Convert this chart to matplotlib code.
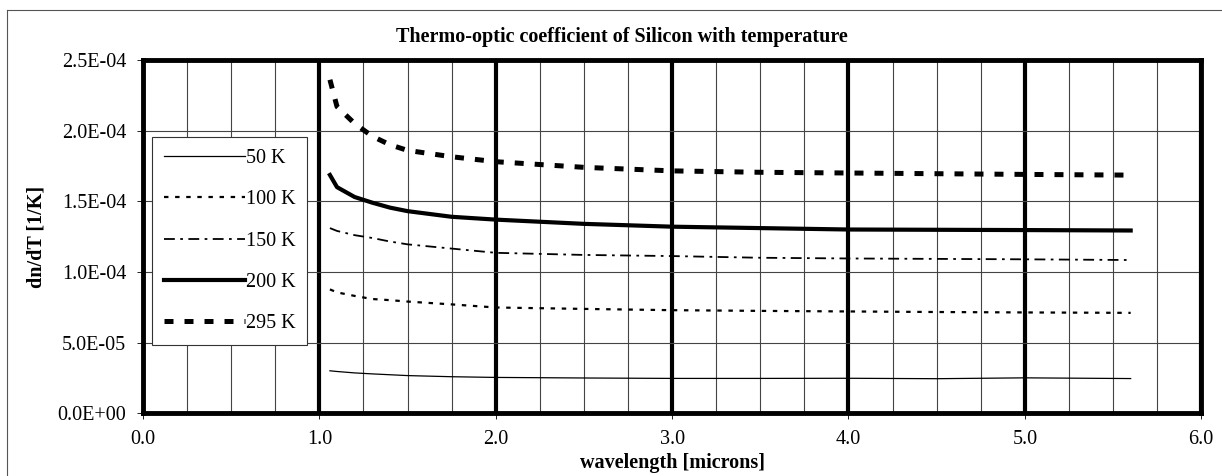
import numpy as np
import matplotlib
matplotlib.use("Agg")
import matplotlib.pyplot as plt
from matplotlib.ticker import FuncFormatter, MultipleLocator
from matplotlib.lines import Line2D

plt.rcParams["font.family"] = ["Liberation Serif", "DejaVu Serif"]

# data
wavelength = [1.06, 1.1, 1.2, 1.3, 1.4, 1.5, 1.75, 2.0, 2.5, 3.0, 3.5, 4.0, 4.5, 5.0, 5.6]

dndt_50K = [0.300, 0.295, 0.285, 0.278, 0.272, 0.266, 0.258, 0.253, 0.249, 0.246,
            0.246, 0.247, 0.244, 0.250, 0.245]
dndt_100K = [0.876, 0.855, 0.830, 0.808, 0.800, 0.790, 0.770, 0.748, 0.738, 0.729,
             0.724, 0.720, 0.716, 0.713, 0.710]
dndt_150K = [1.310, 1.290, 1.260, 1.240, 1.215, 1.195, 1.165, 1.135, 1.120, 1.112,
             1.100, 1.095, 1.092, 1.089, 1.084]
dndt_200K = [1.686, 1.600, 1.530, 1.490, 1.455, 1.430, 1.390, 1.370, 1.340, 1.320,
             1.310, 1.300, 1.298, 1.296, 1.293]
dndt_295K = [2.360, 2.170, 2.050, 1.960, 1.900, 1.860, 1.815, 1.780, 1.740, 1.715,
             1.705, 1.700, 1.695, 1.690, 1.685]

labels = ["50 K", "100 K", "150 K", "200 K", "295 K"]
SCALE = 1e-4
FS = 14.5

fig = plt.figure(figsize=(12.22, 4.76), dpi=100)
ax = fig.add_axes([0.117, 0.132, 0.866, 0.742])

x = np.array(wavelength)
ax.plot(x, np.array(dndt_50K) * SCALE, color="black", lw=0.9, label=labels[0])
ax.plot(x, np.array(dndt_100K) * SCALE, color="black", lw=1.6,
        dashes=(2, 3), label=labels[1])
ax.plot(x, np.array(dndt_150K) * SCALE, color="black", lw=1.3,
        dashes=(6, 3, 1.5, 3), label=labels[2])
ax.plot(x, np.array(dndt_200K) * SCALE, color="black", lw=3.0, label=labels[3])
ax.plot(x, np.array(dndt_295K) * SCALE, color="black", lw=3.6,
        dashes=(1.8, 2.2), label=labels[4])

ax.set_xlim(0, 6)
ax.set_ylim(0, 2.5e-4)
ax.xaxis.set_major_locator(MultipleLocator(1.0))
ax.xaxis.set_minor_locator(MultipleLocator(0.25))
ax.yaxis.set_major_locator(MultipleLocator(0.5e-4))
ax.xaxis.set_major_formatter(FuncFormatter(lambda v, p: f"{v:.1f}"))
ax.yaxis.set_major_formatter(FuncFormatter(lambda v, p: f"{v:.1E}"))

# grid: thin minor verticals, thick majors, thin horizontals
ax.grid(which="minor", axis="x", color="#444444", lw=0.8)
ax.grid(which="major", axis="x", color="black", lw=3.0)
ax.grid(which="major", axis="y", color="#444444", lw=0.8)
ax.set_axisbelow(True)

for s in ax.spines.values():
    s.set_linewidth(3.5)
ax.tick_params(which="major", direction="out", length=4, width=0.6,
               labelsize=FS, pad=8)
ax.tick_params(which="minor", length=0)
ax.tick_params(axis="x", pad=8)

ax.set_xlabel("wavelength [microns]", fontsize=FS, fontweight="bold", labelpad=3)
ax.set_ylabel("dn/dT [1/K]", fontsize=FS, fontweight="bold", labelpad=8)
fig.text(0.509, 0.922, "Thermo-optic coefficient of Silicon with temperature",
         ha="center", va="center", fontsize=FS, fontweight="bold")

leg = ax.legend(loc="upper left", bbox_to_anchor=(0.0085, 0.782),
                fontsize=FS, frameon=True, fancybox=False, framealpha=1,
                edgecolor="#333333", handlelength=4.0, handletextpad=0.05,
                labelspacing=1.1, borderpad=0.6, borderaxespad=0)
leg.get_frame().set_linewidth(0.8)

# outer chart border (left and top visible in scan)
fig.add_artist(Line2D([0.006, 0.006], [0.0, 0.979], color="#555555", lw=0.8))
fig.add_artist(Line2D([0.006, 1.0], [0.979, 0.979], color="#555555", lw=0.8))

fig.savefig("out.png", dpi=100)
